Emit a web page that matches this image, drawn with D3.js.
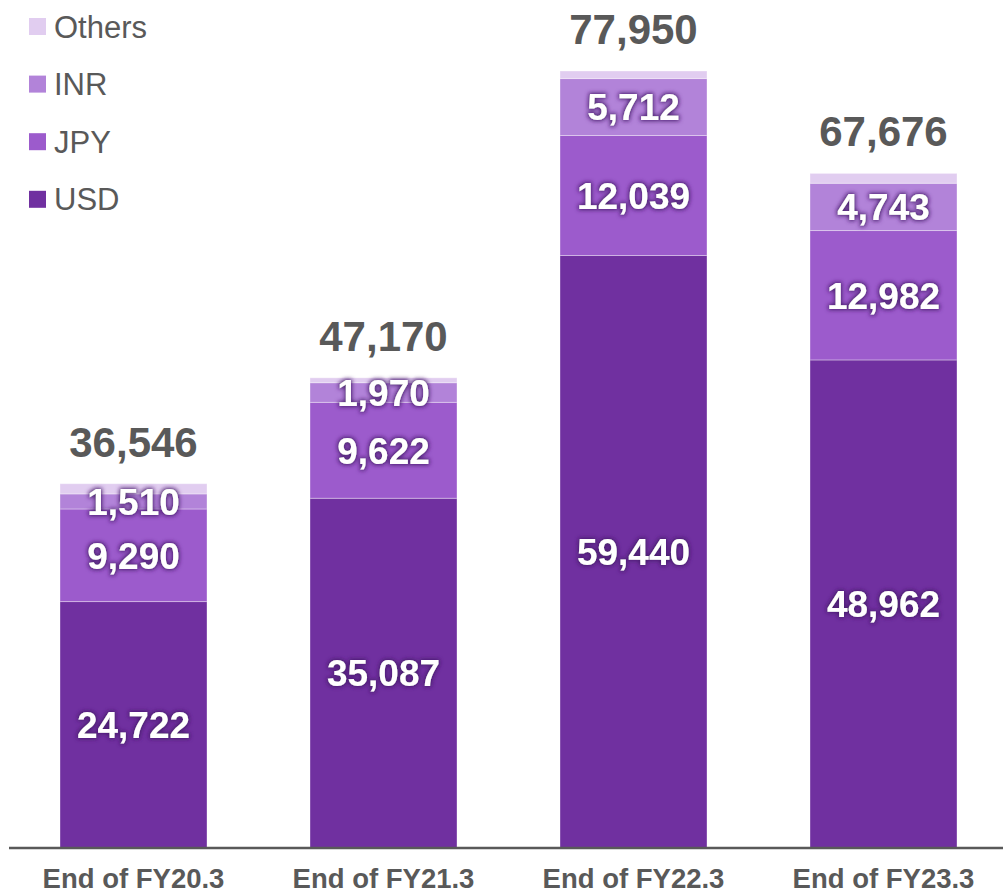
<!DOCTYPE html>
<html>
<head>
<meta charset="utf-8">
<script src="https://cdn.jsdelivr.net/npm/d3@7/dist/d3.min.js"></script>
<style>
  html, body { margin: 0; padding: 0; background: #fff; }
  svg { display: block; font-family: "Liberation Sans", Arial, sans-serif; }
</style>
</head>
<body>
<svg id="chart" width="1003" height="894"></svg>
<script>
// Balance by currency at fiscal year end
const categories = ["End of FY20.3", "End of FY21.3", "End of FY22.3", "End of FY23.3"];
const usd    = [24722, 35087, 59440, 48962];
const jpy    = [9290, 9622, 12039, 12982];
const inr    = [1510, 1970, 5712, 4743];
const others = [1024, 491, 759, 989];
const totals = [36546, 47170, 77950, 67676];

const seriesNames  = ["USD", "JPY", "INR", "Others"];
const seriesColors = ["#7030a0", "#9c5bcc", "#b283d9", "#e1cdf0"];
const labelled     = [true, true, true, false];

const rows = categories.map((c, i) => ({
  cat: c, USD: usd[i], JPY: jpy[i], INR: inr[i], Others: others[i], total: totals[i]
}));

const svg = d3.select("#chart");
const baseY = 848;

const x = d3.scaleBand()
  .domain(categories)
  .range([8.5, 1008.5])
  .paddingInner(0.412)
  .paddingOuter(0.206);

const y = d3.scaleLinear()
  .domain([0, 77950])
  .range([baseY, 71]);

const color = d3.scaleOrdinal().domain(seriesNames).range(seriesColors);

// glow behind the white segment labels
const defs = svg.append("defs");
const f = defs.append("filter").attr("id", "glow")
  .attr("x", "-20%").attr("y", "-40%").attr("width", "140%").attr("height", "180%");
f.append("feMorphology").attr("in", "SourceAlpha").attr("operator", "dilate").attr("radius", 1.2).attr("result", "d");
f.append("feGaussianBlur").attr("in", "d").attr("stdDeviation", 2.2).attr("result", "b");
f.append("feFlood").attr("flood-color", "#45196a").attr("flood-opacity", 0.95);
f.append("feComposite").attr("in2", "b").attr("operator", "in").attr("result", "g");
const m = f.append("feMerge");
m.append("feMergeNode").attr("in", "g");
m.append("feMergeNode").attr("in", "SourceGraphic");

const stacked = d3.stack().keys(seriesNames)(rows);

const layers = svg.append("g").selectAll("g")
  .data(stacked)
  .join("g")
  .attr("fill", d => color(d.key));

layers.selectAll("rect")
  .data(d => d)
  .join("rect")
  .attr("x", d => x(d.data.cat))
  .attr("width", x.bandwidth())
  .attr("y", d => y(d[1]))
  .attr("height", d => y(d[0]) - y(d[1]))
  .attr("stroke", "rgba(255,255,255,0.35)")
  .attr("stroke-width", 1);

// segment value labels
stacked.forEach((layer, li) => {
  if (!labelled[li]) return;
  svg.append("g").selectAll("text")
    .data(layer)
    .join("text")
    .attr("x", d => x(d.data.cat) + x.bandwidth() / 2)
    .attr("y", d => (y(d[0]) + y(d[1])) / 2)
    .attr("dy", "0.36em")
    .attr("text-anchor", "middle")
    .attr("font-size", 37)
    .attr("font-weight", "bold")
    .attr("fill", "#fff")
    .attr("filter", "url(#glow)")
    .text(d => d3.format(",")(d[1] - d[0]));
});

// totals above the bars
svg.append("g").selectAll("text")
  .data(rows)
  .join("text")
  .attr("x", d => x(d.cat) + x.bandwidth() / 2)
  .attr("y", d => y(d.total) - 27)
  .attr("text-anchor", "middle")
  .attr("font-size", 42)
  .attr("font-weight", "bold")
  .attr("fill", "#595959")
  .text(d => d3.format(",")(d.total));

// baseline axis
const axis = svg.append("g")
  .attr("transform", `translate(0,${baseY})`)
  .call(d3.axisBottom(x).tickSize(0).tickPadding(0));
axis.select(".domain").attr("stroke", "#595959").attr("stroke-width", 2.5)
  .attr("d", "M9,0H1003");
axis.selectAll("text")
  .attr("dy", null)
  .attr("y", 40)
  .attr("font-family", "Liberation Sans, Arial, sans-serif")
  .attr("font-size", 27.5)
  .attr("font-weight", "bold")
  .attr("fill", "#595959");

// legend
const legendOrder = ["Others", "INR", "JPY", "USD"];
const lg = svg.append("g").selectAll("g")
  .data(legendOrder)
  .join("g")
  .attr("transform", (d, i) => `translate(29,${26.5 + i * 57.6})`);
lg.append("rect")
  .attr("x", 0).attr("y", -8.5).attr("width", 17).attr("height", 17)
  .attr("fill", d => color(d));
lg.append("text")
  .attr("x", 25).attr("y", 0).attr("dy", "0.36em")
  .attr("font-size", 31)
  .attr("fill", "#595959")
  .text(d => d);
</script>
</body>
</html>
